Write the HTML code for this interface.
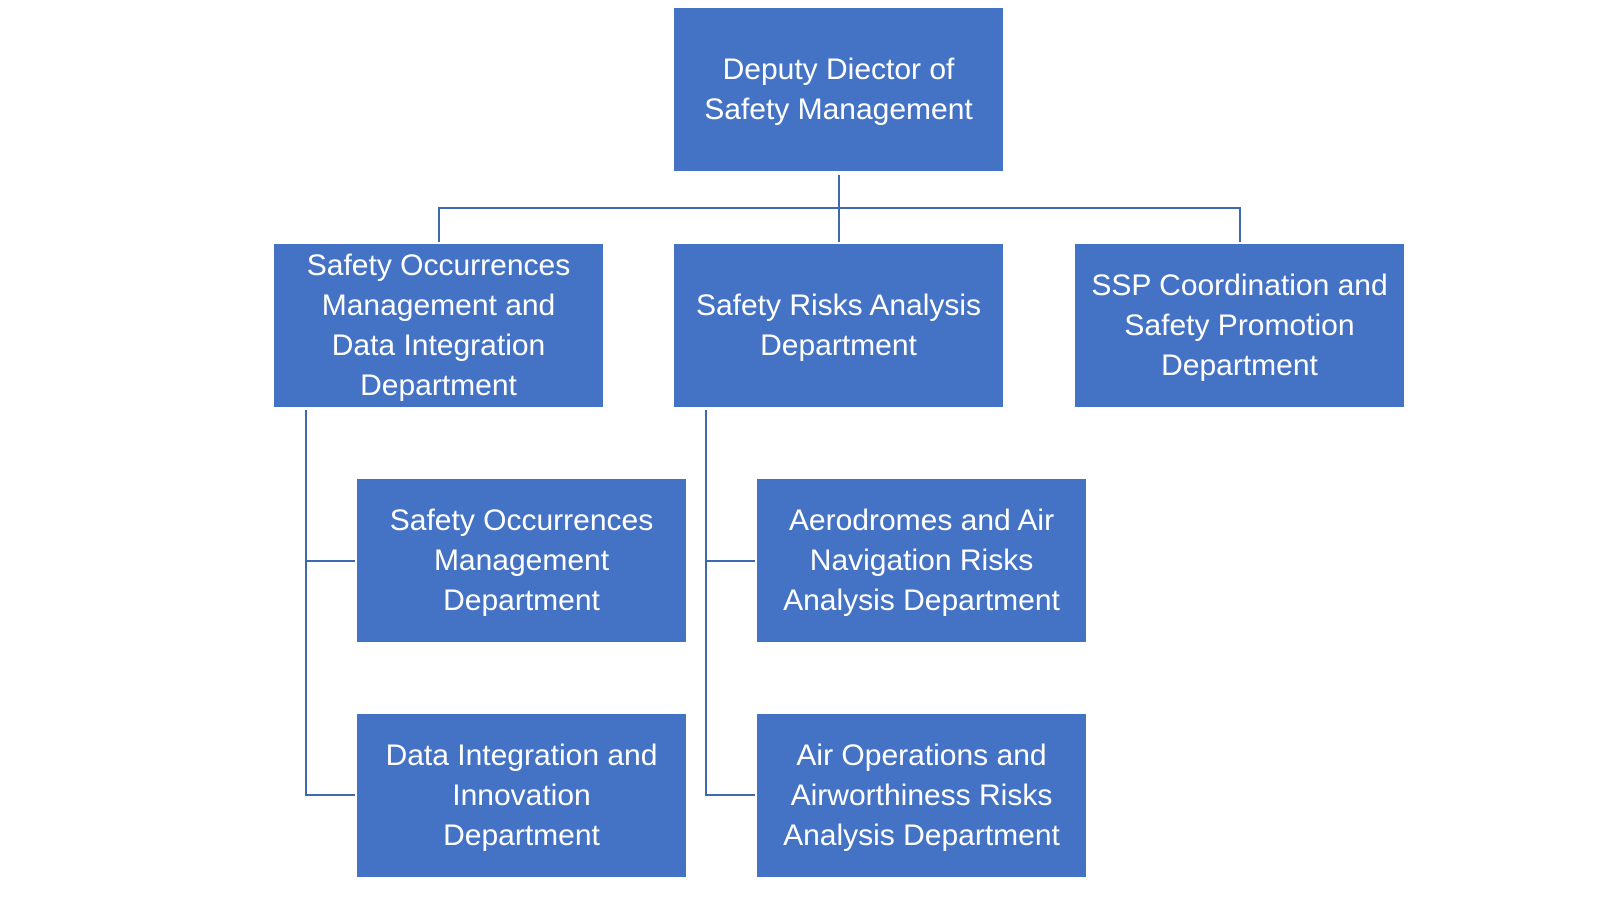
<!DOCTYPE html>
<html><head><meta charset="utf-8"><style>
body{margin:0;width:1600px;height:900px;background:#fff;position:relative;overflow:hidden;font-family:"Liberation Sans",sans-serif}
.b{position:absolute;width:329px;height:163px;background:#4472C4;color:#fff;display:flex;align-items:center;justify-content:center;text-align:center;font-size:30px;line-height:40px;box-sizing:border-box;padding:0 2px}
.l{position:absolute;background:#4068b0}
</style></head><body>
<div class="l" style="left:838px;top:175px;width:2px;height:67px"></div>
<div class="l" style="left:438px;top:207px;width:802px;height:2px"></div>
<div class="l" style="left:438px;top:207px;width:2px;height:35px"></div>
<div class="l" style="left:1239px;top:207px;width:2px;height:35px"></div>
<div class="l" style="left:305px;top:410px;width:2px;height:386px"></div>
<div class="l" style="left:305px;top:560px;width:50px;height:2px"></div>
<div class="l" style="left:305px;top:794px;width:50px;height:2px"></div>
<div class="l" style="left:705px;top:410px;width:2px;height:386px"></div>
<div class="l" style="left:705px;top:560px;width:50px;height:2px"></div>
<div class="l" style="left:705px;top:794px;width:50px;height:2px"></div>
<div class="b" style="left:674px;top:8px">Deputy Diector of<br>Safety Management</div>
<div class="b" style="left:274px;top:244px">Safety Occurrences<br>Management and<br>Data Integration<br>Department</div>
<div class="b" style="left:674px;top:244px">Safety Risks Analysis<br>Department</div>
<div class="b" style="left:1075px;top:244px">SSP Coordination and<br>Safety Promotion<br>Department</div>
<div class="b" style="left:357px;top:479px">Safety Occurrences<br>Management<br>Department</div>
<div class="b" style="left:357px;top:714px">Data Integration and<br>Innovation<br>Department</div>
<div class="b" style="left:757px;top:479px">Aerodromes and Air<br>Navigation Risks<br>Analysis Department</div>
<div class="b" style="left:757px;top:714px">Air Operations and<br>Airworthiness Risks<br>Analysis Department</div>
</body></html>
